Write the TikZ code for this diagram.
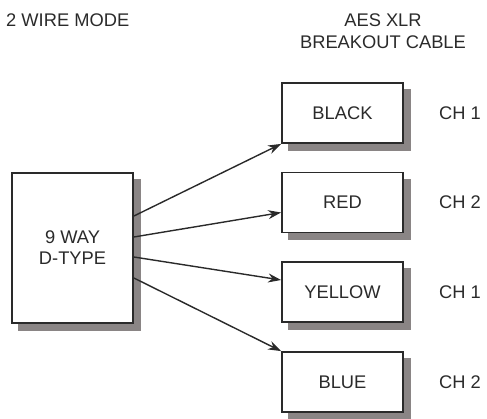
\documentclass[tikz,border=0pt]{standalone}
\usepackage{fontspec}
\setmainfont{Liberation Sans}
\usetikzlibrary{arrows.meta,
                calc,
                backgrounds}
\definecolor{ink}{HTML}{2A2A2A}
\definecolor{shadowgray}{HTML}{8A8585}
\tikzset{
    box/.style={draw=ink, line width=1.8pt, fill=white, minimum width=121pt,
                minimum height=60pt, inner sep=0pt, text=ink},
    lbl/.style={text=ink, inner sep=0pt},
    wire/.style={draw=ink, line width=1.4pt, -{Stealth[length=13pt, width=9pt]}}
}
\begin{document}
\begin{tikzpicture}[x=1pt, y=-1pt, font=\fontsize{18.3}{21}\selectfont]
        \useasboundingbox (0,0) rectangle (487,418);
        \node[lbl, anchor=west] (mode) at (6,20) {2 WIRE MODE};
        \node[lbl] (aes) at (383,20) {AES XLR};
        \node[lbl] (brk) at (383,42) {BREAKOUT CABLE};
        \node[box, minimum height=150pt, align=center] (dtype) at (72.5,248) {9 WAY\\D-TYPE};
        \node[box] (black) at (342.5,113) {BLACK};
        \node[box] (red) at (342.5,202.5) {RED};
        \node[box] (yellow) at (342.5,292) {YELLOW};
        \node[box] (blue) at (342.5,382) {BLUE};
        \node[lbl] (ch1a) at (460,113) {CH 1};
        \node[lbl] (ch2a) at (460,202.5) {CH 2};
        \node[lbl] (ch1b) at (460,292) {CH 1};
        \node[lbl] (ch2b) at (460,382) {CH 2};
        % shadows
        \begin{scope}[on background layer]
            \foreach \b in {dtype,black,red,yellow,blue}
                \fill[shadowgray] ($(\b.south west)+(7,7)$) rectangle ($(\b.north east)+(7,7)$);
        \end{scope}
        \draw[wire] ([yshift=32pt]dtype.east) -- (black.south west);
        \draw[wire] ([yshift=11pt]dtype.east) -- ([yshift=-10pt]red.west);
        \draw[wire] ([yshift=-9pt]dtype.east) -- ([yshift=12pt]yellow.west);
        \draw[wire] ([yshift=-30pt]dtype.east) -- (blue.north west);
    \end{tikzpicture}
\end{document}
